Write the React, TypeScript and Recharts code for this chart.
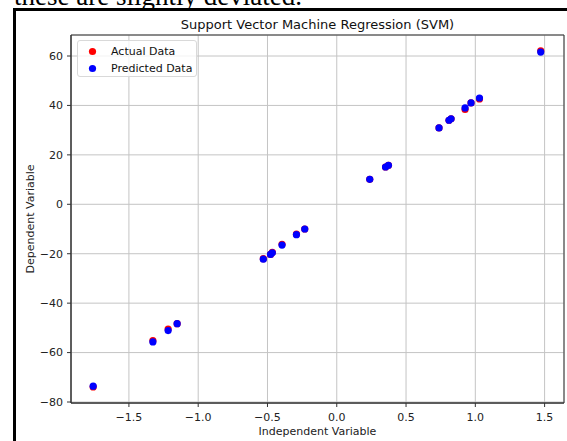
import React from 'react'
import { ScatterChart, Scatter, XAxis, YAxis, CartesianGrid, Legend, ReferenceArea } from 'recharts'

const xValues = [-1.758, -1.327, -1.217, -1.152, -0.53, -0.478, -0.465, -0.395, -0.291, -0.231, 0.238, 0.352, 0.373, 0.738, 0.81, 0.825, 0.926, 0.969, 1.03, 1.472]
const actualY = [-73.9, -55.2, -50.5, -48.3, -22.0, -20.3, -19.4, -16.2, -12.1, -10.0, 10.1, 15.1, 15.8, 30.9, 34.0, 34.6, 38.4, 41.0, 42.6, 62.1]
const predictedY = [-73.6, -55.7, -51.1, -48.3, -22.2, -20.3, -19.6, -16.5, -12.3, -10.0, 10.1, 15.1, 15.8, 30.9, 34.0, 34.6, 39.0, 41.0, 43.0, 61.6]

const xTicks = [-1.5, -1.0, -0.5, 0.0, 0.5, 1.0, 1.5]
const yTicks = [-80, -60, -40, -20, 0, 20, 40, 60]
const xDomain = [-1.918, 1.64]
const yDomain = [-80.4, 68.5]

const actualData = xValues.map((x, i) => ({ x, y: actualY[i] }))
const predictedData = xValues.map((x, i) => ({ x, y: predictedY[i] }))

const FONT = '"DejaVu Sans", sans-serif'
const minus = (s: string) => s.replace('-', '\u2212')

const dot = (color: string) => (props: any) => (
  <circle cx={props.cx} cy={props.cy} r={3.6} fill={color} />
)

const LegendBox = ({ payload }: any) => {
  const items = payload && payload.length ? payload : []
  return (
    <div
      style={{
        position: 'relative',
        width: 120,
        height: 37,
        boxSizing: 'border-box',
        border: '1px solid #d9d9d9',
        borderRadius: 3,
        background: 'rgba(255,255,255,0.8)',
        fontFamily: FONT,
        fontSize: 11,
        color: '#111',
      }}
    >
      {items.map((item: any, i: number) => (
        <div key={item.value} style={{ position: 'absolute', left: 0, top: 3 + i * 17, height: 15, width: 118 }}>
          <svg width={20} height={15} style={{ position: 'absolute', left: 6, top: 0 }}>
            <circle cx={8.5} cy={7.5} r={3.6} fill={item.color} />
          </svg>
          <span style={{ position: 'absolute', left: 33, top: 0, lineHeight: '15px', whiteSpace: 'nowrap' }}>{item.value}</span>
        </div>
      ))}
    </div>
  )
}

export default function App() {
  return (
    <div style={{ position: 'absolute', left: 0, top: 0, width: 567, height: 441, overflow: 'hidden', background: '#fff' }}>
      <div
        style={{
          position: 'absolute',
          left: 14,
          top: -17,
          fontFamily: '"Liberation Serif", serif',
          fontSize: 27,
          lineHeight: '27px',
          whiteSpace: 'nowrap',
          color: '#000',
        }}
      >
        these are slightly deviated.
      </div>
      <div
        style={{
          position: 'absolute',
          left: 13,
          top: 8,
          width: 700,
          height: 600,
          border: '3px solid #000',
          boxSizing: 'border-box',
        }}
      />
      <div
        style={{
          position: 'absolute',
          left: 71,
          width: 493,
          top: 18,
          textAlign: 'center',
          fontFamily: FONT,
          fontSize: 13,
          lineHeight: '13px',
          color: '#111',
          whiteSpace: 'nowrap',
        }}
      >
        Support Vector Machine Regression (SVM)
      </div>
      <div style={{ position: 'absolute', left: 0, top: 0 }}>
        <ScatterChart width={567} height={441} margin={{ top: 35, right: 3, bottom: 0, left: 11 }}>
          <CartesianGrid stroke="#c4c4c4" strokeWidth={1} />
          <XAxis
            type="number"
            dataKey="x"
            domain={xDomain}
            ticks={xTicks}
            allowDataOverflow
            height={38}
            tickSize={4}
            tickMargin={6}
            stroke="#333"
            tick={{ fill: '#222', fontSize: 11, fontFamily: FONT }}
            tickFormatter={(v: number) => minus(v.toFixed(1))}
            label={({ viewBox }: any) => (
              <text
                x={viewBox.x + viewBox.width / 2}
                y={viewBox.y + 32}
                textAnchor="middle"
                fill="#222"
                fontSize={11}
                fontFamily={FONT}
              >
                Independent Variable
              </text>
            )}
          />
          <YAxis
            type="number"
            dataKey="y"
            domain={yDomain}
            ticks={yTicks}
            allowDataOverflow
            width={60}
            tickSize={4}
            tickMargin={4}
            stroke="#333"
            tick={{ fill: '#222', fontSize: 11, fontFamily: FONT }}
            tickFormatter={(v: number) => minus(String(v))}
            label={({ viewBox }: any) => {
              const cx = viewBox.x + 22.5
              const cy = viewBox.y + viewBox.height / 2
              return (
                <text
                  x={cx}
                  y={cy}
                  transform={`rotate(-90 ${cx} ${cy})`}
                  textAnchor="middle"
                  fill="#222"
                  fontSize={11}
                  fontFamily={FONT}
                >
                  Dependent Variable
                </text>
              )
            }}
          />
          <ReferenceArea
            x1={xDomain[0]}
            x2={xDomain[1]}
            y1={yDomain[0]}
            y2={yDomain[1]}
            fill="none"
            stroke="#333"
            strokeWidth={1}
            ifOverflow="visible"
          />
          <Legend
            layout="vertical"
            verticalAlign="middle"
            align="center"
            content={<LegendBox />}
            wrapperStyle={{ left: 77, top: 40, width: 120, height: 37 }}
          />
          <Scatter name="Actual Data" data={actualData} fill="#ff0000" shape={dot('#ff0000')} isAnimationActive={false} />
          <Scatter name="Predicted Data" data={predictedData} fill="#0000ff" shape={dot('#0000ff')} isAnimationActive={false} />
        </ScatterChart>
      </div>
    </div>
  )
}
